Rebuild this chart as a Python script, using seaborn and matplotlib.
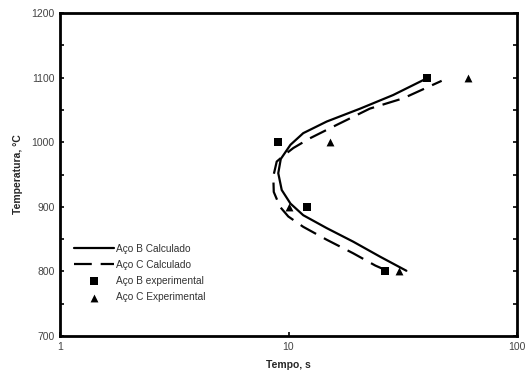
import numpy as np
import pandas as pd
import matplotlib
matplotlib.use("Agg")
import matplotlib.pyplot as plt
import seaborn as sns

# Calculated curves (time in s, temperature in °C)
b_calc_temp = [801, 823, 846, 867, 887, 905, 926, 952, 974, 996, 1014, 1032, 1052, 1073, 1100]
b_calc_time = [32.8, 25.1, 19.2, 14.7, 11.6, 10.2, 9.34, 9.02, 9.25, 10.2, 11.6, 14.7, 20.6, 28.7, 40.9]
c_calc_temp = [801, 809, 828, 849, 869, 885, 900, 923, 947, 970, 981, 991, 1006, 1027, 1052, 1068, 1095]
c_calc_time = [27.0, 24.0, 19.2, 14.7, 11.6, 9.98, 9.18, 8.62, 8.58, 8.88, 9.65, 10.5, 12.4, 16.3, 22.7, 31.8, 46.8]

# Experimental points
b_exp_temp = [800, 900, 1000, 1100]
b_exp_time = [26.4, 12.1, 9.0, 40.4]
c_exp_temp = [800, 900, 1000, 1100]
c_exp_time = [30.5, 10.1, 15.2, 61.0]

x_ticks = [1, 10, 100]
x_tick_labels = ["1", "10", "100"]
y_ticks = [700, 800, 900, 1000, 1100, 1200]

sns.set_style("ticks")
plt.rcParams['font.family'] = ['Liberation Sans', 'DejaVu Sans']

fig = plt.figure(figsize=(5.25, 3.78), dpi=100)
ax = fig.add_axes([60/525, 42/378, 457/525, 323/378])

sns.lineplot(x=b_calc_time, y=b_calc_temp, sort=False, estimator=None, ax=ax,
             color="black", lw=1.6, label="Aço B Calculado")
sns.lineplot(x=c_calc_time, y=c_calc_temp, sort=False, estimator=None, ax=ax,
             color="black", lw=1.6, label="Aço C Calculado")
ax.lines[-1].set_dashes((8, 4))
sns.scatterplot(x=b_exp_time, y=b_exp_temp, marker="s", s=32, color="black",
                edgecolor="black", linewidth=0, ax=ax, label="Aço B experimental")
sns.scatterplot(x=c_exp_time, y=c_exp_temp, marker="^", s=32, color="black",
                edgecolor="black", linewidth=0, ax=ax, label="Aço C Experimental")

ax.set_xscale("log")
ax.set_xlim(1, 100)
ax.set_ylim(700, 1200)
ax.xaxis.set_major_locator(matplotlib.ticker.FixedLocator(x_ticks))
ax.xaxis.set_minor_locator(matplotlib.ticker.NullLocator())
ax.set_xticklabels(x_tick_labels)
ax.set_yticks(y_ticks)
ax.yaxis.set_minor_locator(matplotlib.ticker.MultipleLocator(50))

for s in ax.spines.values():
    s.set_visible(True)
    s.set_linewidth(2.0)
    s.set_color("black")

ax.tick_params(axis="both", which="both", direction="in", length=3, width=1.2,
               colors="black", labelcolor="#444444", labelsize=7.5, pad=4)
ax.tick_params(axis="y", which="both", right=True)

ax.set_xlabel("Tempo, s", fontsize=7.5, fontweight="bold", labelpad=6)
ax.set_ylabel("Temperatura, °C", fontsize=7.5, fontweight="bold", labelpad=6)

leg = ax.legend(loc="upper left", bbox_to_anchor=(0.03, 0.285), frameon=False,
                fontsize=7.3, handlelength=4.0, handletextpad=0.2,
                labelspacing=0.6, borderpad=0, borderaxespad=0)
for t in leg.get_texts():
    t.set_color("#333333")

fig.savefig("out.png", dpi=100)
